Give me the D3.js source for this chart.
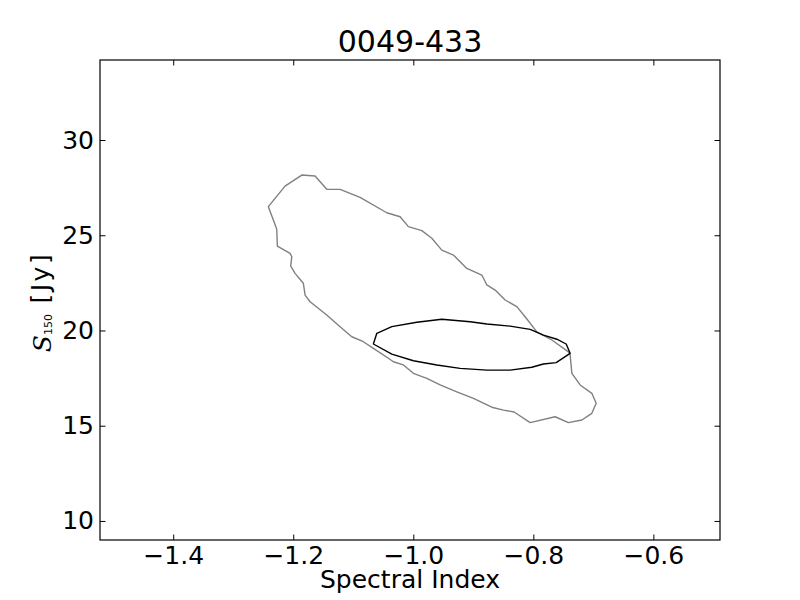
<!DOCTYPE html>
<html>
<head>
<meta charset="utf-8">
<script src="https://cdn.jsdelivr.net/npm/d3@7"></script>
<style>
  html, body { margin: 0; padding: 0; background: #fff; }
  svg { display: block; }
  text { font-family: "DejaVu Sans", sans-serif; fill: #000; }
</style>
</head>
<body>
<svg id="chart" width="800" height="600"></svg>
<script>
// ---- data ----
const titleText = "0049-433";
const xTicks = [-1.4, -1.2, -1.0, -0.8, -0.6];
const yTicks = [10, 15, 20, 25, 30];
const xDomain = [-1.522, -0.489];
const yDomain = [9.0, 34.2];

// outer (grey) contour: [spectral index, S150]
const greyX = [-1.2415,-1.2137,-1.1858,-1.1637,-1.1442,-1.122,-1.0887,-1.0442,-1.022,-1.0082,
  -0.9858,-0.9692,-0.9525,-0.9332,-0.9108,-0.8858,-0.8775,-0.8637,-0.847,-0.8275,
  -0.8137,-0.7942,-0.7692,-0.7415,-0.7387,-0.7358,-0.722,-0.7025,-0.6953,-0.7025,
  -0.7192,-0.7415,-0.7637,-0.8053,-0.832,-0.8498,-0.8692,-0.8998,-0.9275,-0.9553,
  -0.9775,-0.9998,-1.0165,-1.0332,-1.0415,-1.0665,-1.0832,-1.1025,-1.122,-1.1442,
  -1.172,-1.1803,-1.1832,-1.197,-1.2042,-1.2025,-1.2053,-1.2265,-1.2275,-1.2332];
const greyY = [26.50,27.58,28.16,28.11,27.41,27.41,26.99,26.18,25.97,25.45,
  25.24,24.84,24.22,23.96,23.26,22.91,22.39,22.12,21.60,21.25,
  20.72,19.93,19.50,18.88,18.71,17.75,17.14,16.70,16.18,15.65,
  15.30,15.16,15.47,15.16,15.72,15.82,15.97,16.44,16.78,17.14,
  17.49,17.75,18.19,18.36,18.54,19.06,19.41,19.67,20.20,20.81,
  21.51,21.86,22.48,23.00,23.38,23.87,24.05,24.43,25.31,25.80];

// inner (black) contour
const blackX = [-1.0665,-1.0608,-1.0358,-0.9942,-0.9525,-0.9053,-0.8775,-0.8387,-0.8053,-0.7832,
  -0.7608,-0.7453,-0.7387,-0.762,-0.7832,-0.8025,-0.8387,-0.8775,-0.922,-0.9608,
  -0.9998,-1.0358];
const blackY = [19.29,19.85,20.20,20.43,20.59,20.46,20.34,20.23,20.06,19.76,
  19.54,19.29,18.80,18.31,18.24,18.07,17.92,17.92,18.01,18.19,
  18.41,18.76];

// ---- layout ----
const M = { left: 100, right: 720, top: 60, bottom: 540 };
const svg = d3.select("#chart");
const x = d3.scaleLinear().domain(xDomain).range([M.left, M.right]);
const y = d3.scaleLinear().domain(yDomain).range([M.bottom, M.top]);

const fmt = v => (v < 0 ? "\u2212" : "") + Math.abs(v).toFixed(1);

// contours (clipped)
svg.append("clipPath").attr("id", "clip").append("rect")
  .attr("x", M.left).attr("y", M.top).attr("width", M.right - M.left).attr("height", M.bottom - M.top);

const line = d3.line().x(d => x(d[0])).y(d => y(d[1])).curve(d3.curveLinearClosed);
const g = svg.append("g").attr("clip-path", "url(#clip)");
g.append("path").datum(d3.zip(greyX, greyY)).attr("d", line)
  .attr("fill", "none").attr("stroke", "#808080").attr("stroke-width", 1.4).attr("stroke-linejoin", "round");
g.append("path").datum(d3.zip(blackX, blackY)).attr("d", line)
  .attr("fill", "none").attr("stroke", "#000").attr("stroke-width", 1.4).attr("stroke-linejoin", "round");

// axes with inward ticks on all sides
const tl = 5.5;
const axB = d3.axisBottom(x).tickValues(xTicks).tickSizeInner(-tl).tickSizeOuter(0).tickPadding(6).tickFormat(fmt);
const axT = d3.axisTop(x).tickValues(xTicks).tickSizeInner(-tl).tickSizeOuter(0).tickFormat("");
const axL = d3.axisLeft(y).tickValues(yTicks).tickSizeInner(-tl).tickSizeOuter(0).tickPadding(6).tickFormat(d3.format("d"));
const axR = d3.axisRight(y).tickValues(yTicks).tickSizeInner(-tl).tickSizeOuter(0).tickFormat("");

function style(sel) {
  sel.select(".domain").remove();
  sel.selectAll(".tick line").attr("stroke", "#000").attr("stroke-width", 1);
  sel.selectAll(".tick text").attr("font-family", "DejaVu Sans").attr("font-size", 25).attr("fill", "#000");
}
svg.append("g").attr("transform", `translate(0,${M.bottom})`).call(axB).call(style);
svg.append("g").attr("transform", `translate(0,${M.top})`).call(axT).call(style);
svg.append("g").attr("transform", `translate(${M.left},0)`).call(axL).call(style);
svg.append("g").attr("transform", `translate(${M.right},0)`).call(axR).call(style);

// frame
svg.append("rect").attr("x", M.left).attr("y", M.top)
  .attr("width", M.right - M.left).attr("height", M.bottom - M.top)
  .attr("fill", "none").attr("stroke", "#000").attr("stroke-width", 1.2);

// title
svg.append("text").attr("x", (M.left + M.right) / 2).attr("y", 52)
  .attr("text-anchor", "middle").attr("font-size", 30).text(titleText);

// x label
svg.append("text").attr("x", (M.left + M.right) / 2).attr("y", 588)
  .attr("text-anchor", "middle").attr("font-size", 25).text("Spectral Index");

// y label: S_150 [Jy]
const yl = svg.append("text").attr("transform", "translate(51,302) rotate(-90)")
  .attr("text-anchor", "middle").attr("font-size", 25);
yl.append("tspan").attr("font-family", "DejaVu Serif").attr("font-style", "italic").text("S");
yl.append("tspan").attr("font-size", 11).attr("dy", 1).text("150");
yl.append("tspan").attr("dy", -3).attr("letter-spacing", 2.5).text("\u00a0[Jy]");
</script>
</body>
</html>
